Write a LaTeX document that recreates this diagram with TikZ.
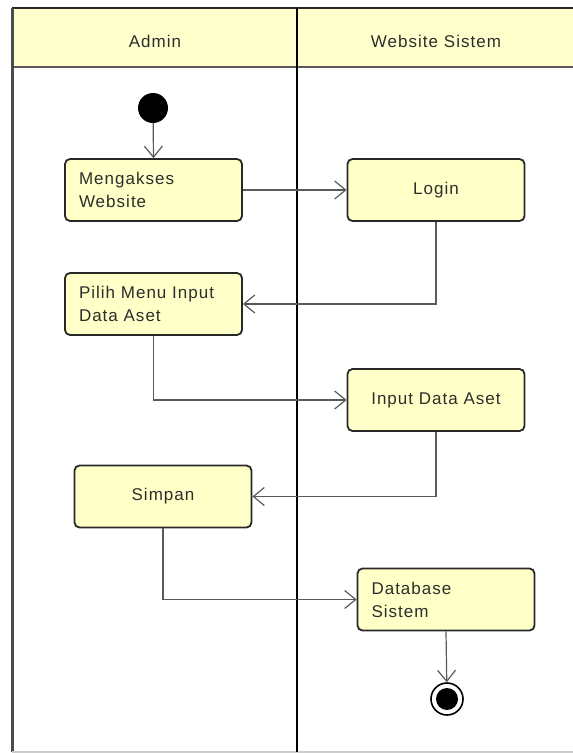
\documentclass[tikz,border=0pt]{standalone}
\usepackage{fontspec}
\setmainfont[LetterSpace=6]{Liberation Sans}
\usepackage{tikz}
\usetikzlibrary{arrows.meta,positioning}
\definecolor{umlfill}{RGB}{255,255,200}
\definecolor{headfill}{RGB}{255,255,204}
\definecolor{umlline}{RGB}{40,40,40}
\definecolor{umltext}{RGB}{45,45,45}
\definecolor{flowgray}{RGB}{90,90,90}

\tikzset{
  actbox/.style={rectangle, draw=umlline, line width=1.8pt, rounded corners=5pt,
    fill=umlfill, minimum width=177pt, minimum height=62pt, text=umltext,
    font=\fontsize{17}{23}\selectfont},
  actleft/.style={actbox, text width=149pt, inner xsep=14pt, align=left},
  flow/.style={draw=flowgray, line width=1.2pt,
    -{Straight Barb[length=11pt,width=18pt,line width=1.2pt]}},
  lanehead/.style={text=umltext, font=\fontsize{17}{22}\selectfont}
}

\begin{document}
\begin{tikzpicture}[x=1pt, y=-1pt]
  \useasboundingbox (0,0) rectangle (573,753);

  % Swimlane frame
  \fill[headfill] (12,8) rectangle (573,67);
  \draw[black!85, line width=2.5pt] (12,8) -- (573,8);
  \draw[black!65, line width=2.5pt] (12,67) -- (573,67);
  \draw[black!70, line width=3pt] (12,8) -- (12,752);
  \draw[black!20, line width=1.5pt] (12,752) -- (573,752);
  \draw[black, line width=2.5pt] (297,8) -- (297,752);
  \node[lanehead] (admin) at (155,41) {Admin};
  \node[lanehead] (website) at (436,41) {Website Sistem};

  % Start and end
  \node[circle, fill=black, minimum size=30pt, inner sep=0pt] (start) at (153,108) {};
  \node[circle, draw=black, line width=1.6pt, fill=white, minimum size=32pt, inner sep=0pt] (end) at (447,699) {};
  \fill[black] (end.center) circle (11pt);

  % Activities
  \node[actleft] (mengakses) at (153.5,190) {Mengakses\\Website};
  \node[actbox] (login) at (436,190) {Login};
  \node[actleft] (pilih) at (153.5,304) {Pilih Menu Input\\Data Aset};
  \node[actbox] (input) at (436,400) {Input Data Aset};
  \node[actbox] (simpan) at (163,496.5) {Simpan};
  \node[actleft] (database) at (446,599.5) {Database\\Sistem};

  % Control flow
  \draw[flow] (start) -- (mengakses.north);
  \draw[flow] (mengakses.east) -- (login.west);
  \draw[flow] (login.south) |- (pilih.east);
  \draw[flow] (pilih.south) |- (input.west);
  \draw[flow] (input.south) |- (simpan.east);
  \draw[flow] (simpan.south) |- (database.west);
  \draw[flow] (database.south) -- (end);
\end{tikzpicture}
\end{document}
